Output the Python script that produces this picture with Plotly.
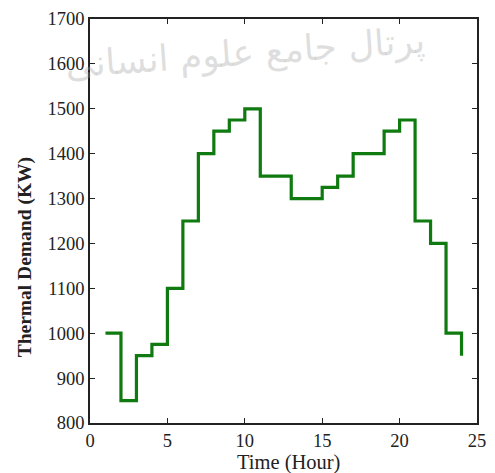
import plotly.graph_objects as go

# Hourly thermal demand profile (kW), stepped over a 24-hour day
hours = list(range(1, 25))
demand_kw = [1000, 850, 950, 975, 1100, 1250, 1400, 1450, 1475, 1500,
             1350, 1350, 1300, 1300, 1325, 1350, 1400, 1400, 1450, 1475,
             1250, 1200, 1000, 950]

x_ticks = [0, 5, 10, 15, 20, 25]
y_ticks = [800, 900, 1000, 1100, 1200, 1300, 1400, 1500, 1600, 1700]

serif = "Liberation Serif, Times New Roman, serif"

fig = go.Figure()
fig.add_trace(go.Scatter(
    x=hours, y=demand_kw, mode="lines",
    line=dict(shape="hv", color="#0f7a0f", width=3.2),
    showlegend=False,
))

axis_common = dict(
    showgrid=False, zeroline=False, showline=True, linecolor="#222",
    linewidth=1.5, mirror="ticks", ticks="inside", ticklen=5,
    tickcolor="#222", tickwidth=1.2,
    tickfont=dict(family=serif, size=18.5, color="#222"),
)

fig.update_xaxes(range=[0, 25], tickvals=x_ticks, **axis_common)
fig.update_yaxes(range=[800, 1700], tickvals=y_ticks, **axis_common)

# axis titles
fig.add_annotation(
    text="Time (Hour)", xref="paper", yref="paper",
    x=0.512, y=-0.097, xanchor="center", yanchor="middle", showarrow=False,
    font=dict(family=serif, size=20.5, color="#222"),
)
fig.add_annotation(
    text="<b>Thermal Demand (KW)</b>", xref="paper", yref="paper",
    x=-0.167, y=0.411, xanchor="center", yanchor="middle", showarrow=False,
    textangle=-90, font=dict(family=serif, size=19.5, color="#222"),
)

# faint site watermark across the top
fig.add_annotation(
    text="پرتال جامع علوم انسانی", xref="paper", yref="paper",
    x=0.40, y=0.915, xanchor="center", yanchor="middle", showarrow=False,
    textangle=-4,
    font=dict(family="DejaVu Sans", size=36, color="rgba(160,160,160,0.35)"),
)

fig.update_layout(
    width=495, height=473,
    margin=dict(l=90, r=9, t=19, b=50),
    paper_bgcolor="white", plot_bgcolor="white",
)

fig.write_html("out.html")
